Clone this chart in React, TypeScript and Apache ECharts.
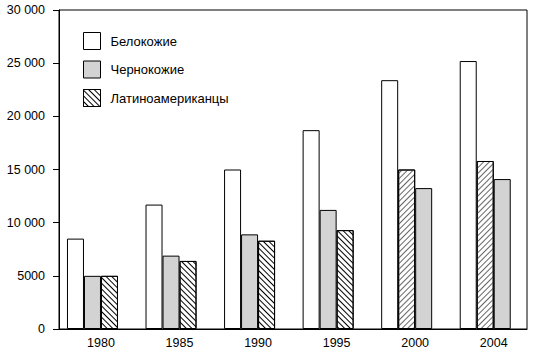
import React, { useEffect, useRef } from 'react';
import * as echarts from 'echarts';

const years = ['1980', '1985', '1990', '1995', '2000', '2004'];
const white = [8500, 11700, 15000, 18700, 23400, 25200];
const black = [5000, 6900, 8900, 11200, 13250, 14100];
const hispanic = [5000, 6400, 8300, 9300, 15000, 15800];
// in 2000 and 2004 the reference draws the hispanic bar before the black one
const swapped = [false, false, false, false, true, true];
const legendNames = ['Белокожие', 'Чернокожие', 'Латиноамериканцы'];
const yMin = 0;
const yMax = 30000;
const yStep = 5000;

const FONT = '"Liberation Sans", Arial, Helvetica, sans-serif';

const whiteStyle = { color: '#ffffff', borderColor: '#000', borderWidth: 1 };
const grayStyle = { color: '#d3d3d3', borderColor: '#000', borderWidth: 1 };
const hatchBack = {
  color: '#ffffff',
  borderColor: '#000',
  borderWidth: 1,
  decal: {
    symbol: 'rect',
    symbolSize: 1,
    color: '#000',
    dashArrayX: [1, 0],
    dashArrayY: [1, 3],
    rotation: Math.PI / 4,
  },
};
const hatchFwd = {
  color: '#ffffff',
  borderColor: '#000',
  borderWidth: 1,
  decal: {
    symbol: 'rect',
    symbolSize: 1,
    color: '#666',
    dashArrayX: [1, 0],
    dashArrayY: [1, 3],
    rotation: -Math.PI / 4,
  },
};

function fmt(v: number) {
  if (v >= 10000) return `${Math.floor(v / 1000)} ${String(v % 1000).padStart(3, '0')}`;
  return String(v);
}

export default function App() {
  const ref = useRef<HTMLDivElement>(null);
  useEffect(() => {
    if (!ref.current) return;
    const chart = echarts.init(ref.current, undefined, { renderer: 'svg' });
    const slot1 = white.map((v) => ({ value: v, itemStyle: whiteStyle }));
    const slot2 = years.map((_, i) =>
      swapped[i] ? { value: hispanic[i], itemStyle: hatchFwd } : { value: black[i], itemStyle: grayStyle }
    );
    const slot3 = years.map((_, i) =>
      swapped[i] ? { value: black[i], itemStyle: grayStyle } : { value: hispanic[i], itemStyle: hatchBack }
    );
    const legendStyles = [whiteStyle, grayStyle, hatchBack];
    chart.setOption({
      animation: false,
      backgroundColor: '#fff',
      textStyle: { fontFamily: FONT },
      legend: {
        data: legendNames,
        orient: 'vertical',
        left: 83,
        top: 32,
        padding: 0,
        itemWidth: 17,
        itemHeight: 17,
        itemGap: 10.5,
        icon: 'rect',
        selectedMode: false,
        itemStyle: { borderColor: '#000', borderWidth: 1 },
        textStyle: { fontSize: 13, color: '#000', fontFamily: FONT, padding: [0, 0, 0, 5] },
      },
      grid: [
        { left: 61.7, top: 10, bottom: 29, width: 480 },
        { left: 59, right: 6, top: 10, bottom: 29, show: true, borderColor: '#000', borderWidth: 1, backgroundColor: 'transparent' },
      ],
      xAxis: [
        {
          type: 'category',
          gridIndex: 0,
          data: years,
          axisLine: { show: false },
          axisTick: { show: false },
          axisLabel: { color: '#000', fontSize: 12.5, margin: 7, fontFamily: FONT },
        },
        {
          type: 'category',
          gridIndex: 1,
          data: years,
          axisLine: { show: true, lineStyle: { color: '#000', width: 1 } },
          axisTick: { show: false },
          axisLabel: { show: false },
        },
      ],
      yAxis: [
        { type: 'value', gridIndex: 0, min: yMin, max: yMax, interval: yStep, show: false },
        {
          type: 'value',
          gridIndex: 1,
          min: yMin,
          max: yMax,
          interval: yStep,
          axisLine: { show: true, lineStyle: { color: '#000', width: 1 } },
          axisTick: { show: true, length: 6, lineStyle: { color: '#000', width: 1 } },
          axisLabel: { color: '#000', fontSize: 12.5, margin: 14, fontFamily: FONT, formatter: (v: number) => fmt(v) },
          splitLine: { show: false },
        },
      ],
      series: [
        { type: 'bar', name: 'slot1', xAxisIndex: 0, yAxisIndex: 0, barWidth: 17, barGap: '0%', data: slot1 },
        { type: 'bar', name: 'slot2', xAxisIndex: 0, yAxisIndex: 0, barWidth: 17, barGap: '0%', data: slot2 },
        { type: 'bar', name: 'slot3', xAxisIndex: 0, yAxisIndex: 0, barWidth: 17, barGap: '0%', data: slot3 },
        {
          type: 'bar',
          name: 'spacer',
          xAxisIndex: 0,
          yAxisIndex: 0,
          barWidth: 17,
          barGap: '0%',
          silent: true,
          itemStyle: { color: 'transparent', borderWidth: 0 },
          data: years.map(() => '-'),
        },
        ...legendNames.map((n, k) => ({
          type: 'bar',
          name: n,
          xAxisIndex: 1,
          yAxisIndex: 1,
          itemStyle: legendStyles[k],
          data: [],
        })),
      ],
    });
    return () => chart.dispose();
  }, []);
  return <div ref={ref} style={{ position: 'absolute', left: 0, top: 0, width: 533, height: 358 }} />;
}
